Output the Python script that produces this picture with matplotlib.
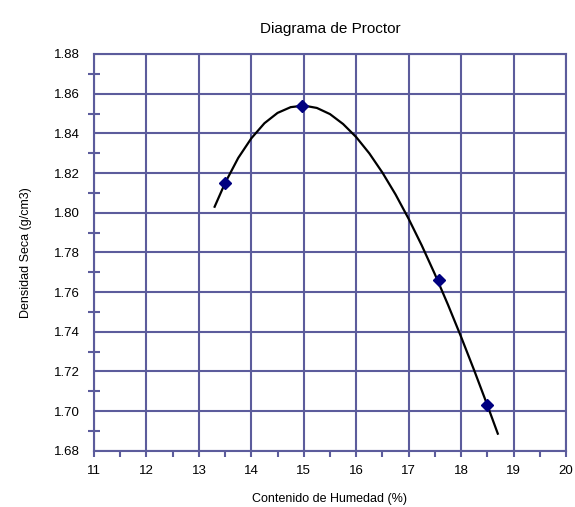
import numpy as np
import matplotlib
matplotlib.use("Agg")
import matplotlib.pyplot as plt
from matplotlib.ticker import MultipleLocator, FormatStrFormatter

plt.rcParams['font.family'] = ['Liberation Sans', 'DejaVu Sans']

# ensayo proctor: humedad (%) vs densidad seca (g/cm3)
humedad = [13.5, 14.96, 17.57, 18.5]
densidad = [1.815, 1.854, 1.766, 1.703]

# curva de ajuste
curva_x = [13.3, 13.5, 13.75, 14.0, 14.25, 14.5, 14.75, 15.0, 15.25, 15.5, 15.75, 16.0,
           16.25, 16.5, 16.75, 17.0, 17.25, 17.5, 17.75, 18.0, 18.25, 18.5, 18.7]
curva_y = [1.803, 1.815, 1.8276, 1.8375, 1.8451, 1.8503, 1.8532, 1.854, 1.8528, 1.8497,
           1.8447, 1.8381, 1.8299, 1.8202, 1.8092, 1.7969, 1.7835, 1.7690, 1.7536, 1.7374,
           1.7205, 1.703, 1.6886]

grid_col = '#5c5c9c'

fig = plt.figure(figsize=(5.75, 5.07), dpi=100)
ax = fig.add_axes([0.1635, 0.111, 0.8208, 0.7825])

ax.plot(curva_x, curva_y, color='black', lw=1.6, zorder=3)
ax.plot(humedad, densidad, 'D', color='#000080', ms=6.5, zorder=4)

ax.set_xlim(11, 20)
ax.set_ylim(1.68, 1.88)
ax.xaxis.set_major_locator(MultipleLocator(1))
ax.xaxis.set_minor_locator(MultipleLocator(0.5))
ax.yaxis.set_major_locator(MultipleLocator(0.02))
ax.yaxis.set_minor_locator(MultipleLocator(0.01))
ax.yaxis.set_major_formatter(FormatStrFormatter('%.2f'))

ax.grid(True, which='major', color=grid_col, lw=1.5)
ax.set_axisbelow(True)
for s in ax.spines.values():
    s.set_color(grid_col)
    s.set_linewidth(1.5)

ax.tick_params(axis='x', which='both', direction='out', length=4, width=1.5,
               color=grid_col, labelsize=9.5, pad=6)
ax.tick_params(axis='y', which='major', length=0, labelsize=9.5, pad=10)
ax.tick_params(axis='y', which='minor', direction='inout', length=8, width=1.5,
               color=grid_col)

ax.set_title("Diagrama de Proctor", fontsize=11, pad=15)
ax.set_xlabel("Contenido de Humedad (%)", fontsize=9, labelpad=12)
ax.set_ylabel("Densidad Seca (g/cm3)", fontsize=9, labelpad=16)

fig.savefig("out.png", dpi=100)
